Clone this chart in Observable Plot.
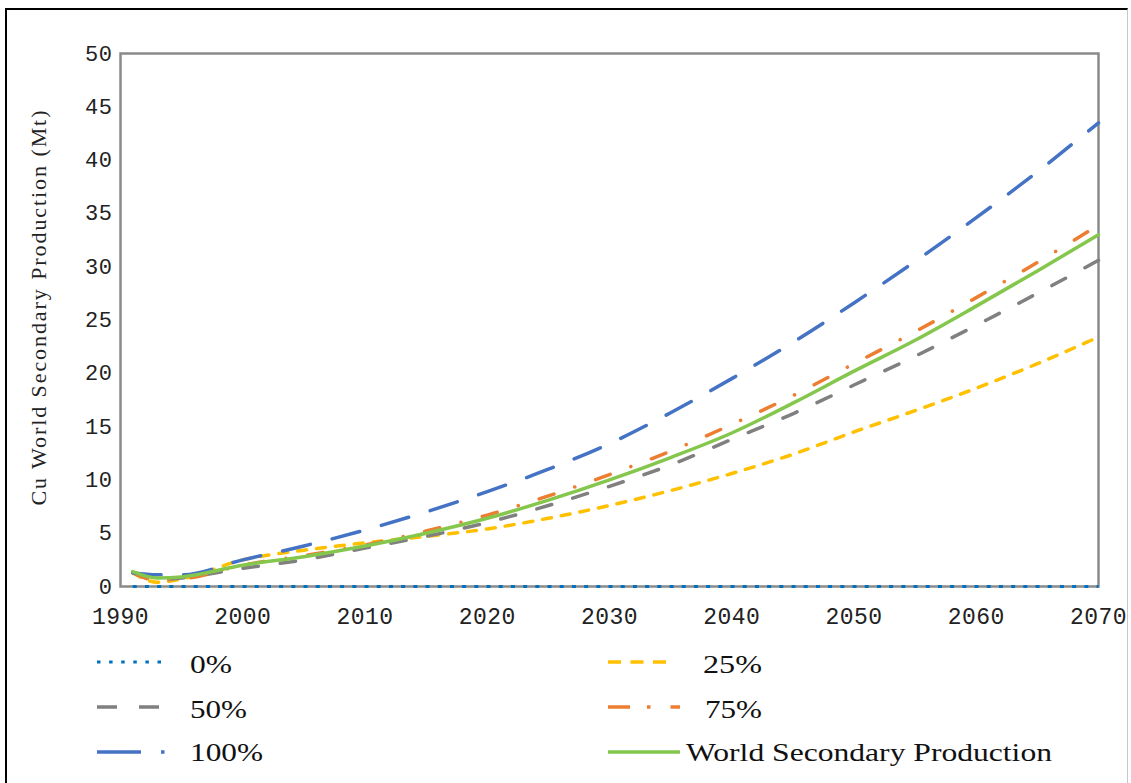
<!DOCTYPE html>
<html>
<head>
<meta charset="utf-8">
<script src="https://cdn.jsdelivr.net/npm/d3@7"></script>
<script src="https://cdn.jsdelivr.net/npm/@observablehq/plot@0.6"></script>
<style>
  html, body { margin: 0; padding: 0; background: #fff; width: 1131px; height: 783px; overflow: hidden; }
  #page { position: relative; width: 1131px; height: 783px; }
  #border { position: absolute; left: 5px; top: 8px; width: 1123px; height: 800px;
            border-top: 2px solid #000; border-left: 2px solid #000; border-right: 1px solid #c8c8c8; box-sizing: border-box; }
  #chart { position: absolute; left: 0; top: 0; }
  #legend { position: absolute; left: 0; top: 640px; }
  [aria-label="x-axis tick label"] text { letter-spacing: 0.5px; }
  [aria-label="y-axis tick label"] text { letter-spacing: 0.5px; }
</style>
</head>
<body>
<div id="page">
  <div id="border"></div>
  <div id="chart"></div>
  <div id="legend"></div>
</div>
<script>
// ---- data ----
const years   = [1991, 1993, 1995, 2000, 2005, 2010, 2015, 2020, 2025, 2030, 2035, 2040, 2045, 2050, 2055, 2060, 2065, 2070];
const p0      = [0,    0,    0,    0,    0,    0,    0,    0,    0,    0,    0,    0,    0,    0,    0,    0,    0,    0];
const p25     = [1.3,  0.4,  0.7,  2.5,  3.4,  4.1,  4.7,  5.4,  6.4,  7.6,  9.0,  10.6, 12.4, 14.5, 16.5, 18.6, 20.9, 23.4];
const p50     = [1.3,  0.6,  0.8,  1.7,  2.5,  3.6,  4.7,  6.0,  7.6,  9.4,  11.4, 13.8, 16.2, 18.9, 21.6, 24.5, 27.5, 30.6];
const p75     = [1.3,  0.6,  0.7,  2.0,  2.9,  3.9,  5.2,  6.7,  8.5,  10.5, 12.7, 15.2, 17.9, 20.9, 23.9, 27.1, 30.4, 33.9];
const p100    = [1.3,  1.1,  1.1,  2.5,  3.8,  5.3,  7.0,  8.9,  11.0, 13.4, 16.3, 19.5, 22.9, 26.6, 30.5, 34.6, 38.9, 43.5];
const world   = [1.4,  0.8,  0.9,  2.0,  2.8,  3.8,  5.0,  6.4,  8.1,  10.0, 12.1, 14.4, 17.2, 20.2, 23.1, 26.3, 29.6, 33.0];

const seriesNames = ["0%", "25%", "50%", "75%", "100%", "World Secondary Production"];
const xTicks = [1990, 2000, 2010, 2020, 2030, 2040, 2050, 2060, 2070];
const yTicks = [0, 5, 10, 15, 20, 25, 30, 35, 40, 45, 50];
const yTitle = "Cu World Secondary Production (Mt)";

// ---- styles ----
const styles = [
  {color: "#0070C0", dash: "4,8.2",            width: 3,   cap: "butt"},
  {color: "#FFC000", dash: "9,10",             width: 3.5, cap: "round"},
  {color: "#808080", dash: "15.5,22",          width: 3.5, cap: "round"},
  {color: "#ED7D31", dash: "15.5,22,0.1,22",   width: 3.5, cap: "round"},
  {color: "#4472C4", dash: "28.5,22.5",        width: 3.5, cap: "round"},
  {color: "#84C74C", dash: null,               width: 3.5, cap: "round"}
];
const valueSets = [p0, p25, p50, p75, p100, world];
const tables = valueSets.map((vals, i) => years.map((yr, j) => ({year: yr, value: vals[j], series: seriesNames[i]})));

const lineMarks = tables.map((t, i) => Plot.line(t, {
  x: "year", y: "value",
  stroke: styles[i].color,
  strokeWidth: styles[i].width,
  strokeDasharray: styles[i].dash,
  strokeLinecap: styles[i].cap,
  curve: "monotone-x"
}));

const chart = Plot.plot({
  width: 1131,
  height: 640,
  marginLeft: 120,
  marginRight: 33,
  marginTop: 53,
  marginBottom: 54,
  style: {background: "transparent", color: "#222", fontFamily: "Liberation Mono", overflow: "visible"},
  x: {domain: [1990, 2070]},
  y: {domain: [0, 50]},
  marks: [
    Plot.frame({stroke: "#8a8a8a", strokeWidth: 2.5}),
    ...lineMarks,
    Plot.axisX({ticks: xTicks, tickFormat: d => String(d), tickSize: 0, tickPadding: 21, fontSize: 23, fontFamily: "Liberation Mono", label: null}),
    Plot.axisY({ticks: yTicks, tickSize: 0, tickPadding: 8, fontSize: 22, fontFamily: "Liberation Mono", label: null}),
    Plot.text([yTitle], {text: d => d, frameAnchor: "left", textAnchor: "middle", rotate: -90, dx: -82, dy: -12,
      fontFamily: "Liberation Serif", fontSize: 22, fill: "#222"})
  ]
});
document.getElementById("chart").appendChild(chart);
d3.select(chart).selectAll("text")
  .filter(function() { return this.textContent === yTitle; })
  .attr("textLength", 395).attr("lengthAdjust", "spacing");

// ---- legend (below the chart) ----
const leg = d3.select("#legend").append("svg").attr("width", 1131).attr("height", 143);
const legendItems = [
  {i: 0, sx: 97,  sy: 22,  tx: 190, ty: 33,  tw: 42},
  {i: 1, sx: 608, sy: 22,  tx: 703, ty: 33,  tw: 59},
  {i: 2, sx: 97,  sy: 67,  tx: 190, ty: 78,  tw: 57},
  {i: 3, sx: 608, sy: 67,  tx: 705, ty: 78,  tw: 57},
  {i: 4, sx: 97,  sy: 112, tx: 190, ty: 121, tw: 73},
  {i: 5, sx: 608, sy: 112, tx: 686, ty: 121, tw: 366}
];
const legendDash = ["3.5,8.6", "13,9.5", "20,22", "22,17,3.5,20", "44,20,3.5", null];
const legendLen = [64, 64, 65, 72, 70, 72];
legendItems.forEach(it => {
  const s = styles[it.i];
  leg.append("line")
    .attr("x1", it.sx).attr("x2", it.sx + legendLen[it.i])
    .attr("y1", it.sy).attr("y2", it.sy)
    .attr("stroke", s.color).attr("stroke-width", s.width)
    .attr("stroke-dasharray", legendDash[it.i]);
  leg.append("text")
    .attr("x", it.tx).attr("y", it.ty)
    .attr("font-family", "Liberation Serif").attr("font-size", 25).attr("fill", "#111")
    .attr("textLength", it.tw).attr("lengthAdjust", "spacingAndGlyphs")
    .text(seriesNames[it.i]);
});
</script>
</body>
</html>
